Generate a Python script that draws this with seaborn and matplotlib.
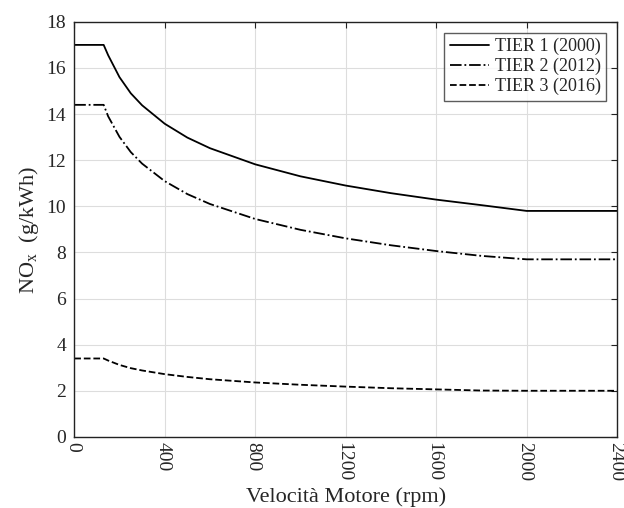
import numpy as np
import pandas as pd
import seaborn as sns
import matplotlib
matplotlib.use("Agg")
import matplotlib.pyplot as plt
import matplotlib.transforms as mtransforms

# values
rpm = [0, 130, 150, 200, 250, 300, 400, 500, 600, 800, 1000, 1200, 1400,
       1600, 1800, 2000, 2400]
tier1 = [17.0, 17.0, 16.55, 15.6, 14.9, 14.38, 13.58, 12.98, 12.52, 11.82,
         11.30, 10.90, 10.57, 10.29, 10.05, 9.8, 9.8]
tier2 = [14.4, 14.4, 13.9, 13.01, 12.35, 11.85, 11.09, 10.53, 10.10, 9.45,
         8.98, 8.61, 8.31, 8.06, 7.85, 7.7, 7.7]
tier3 = [3.4, 3.4, 3.31, 3.12, 2.98, 2.88, 2.72, 2.60, 2.50, 2.36,
         2.26, 2.18, 2.11, 2.06, 2.01, 2.0, 2.0]
labels = ["TIER 1 (2000)", "TIER 2 (2012)", "TIER 3 (2016)"]
styles = ["-", "-.", "--"]

df = pd.DataFrame({"rpm": rpm, labels[0]: tier1, labels[1]: tier2, labels[2]: tier3})
long = df.melt(id_vars="rpm", var_name="tier", value_name="nox")

sns.set_style("whitegrid")
plt.rcParams["font.family"] = ["Liberation Serif", "DejaVu Serif"]
plt.rcParams["mathtext.fontset"] = "custom"
plt.rcParams["mathtext.rm"] = "Liberation Serif"

fig = plt.figure(figsize=(6.24, 5.08), dpi=100)
ax = fig.add_axes([0.119, 0.140, 0.870, 0.817])

for lab, ls in zip(labels, styles):
    sub = long[long["tier"] == lab]
    sns.lineplot(data=sub, x="rpm", y="nox", ax=ax, color="black",
                 linestyle=ls, linewidth=1.3, label=lab)

ax.set_xlim(0, 2400)
ax.set_ylim(0, 18)
ax.set_xticks(np.arange(0, 2401, 400))
ax.set_yticks(np.arange(0, 19, 2))
ax.tick_params(axis="x", labelrotation=270, labelsize=14, pad=4)
ax.tick_params(axis="y", labelsize=14, pad=6)
ax.tick_params(direction="in", length=4, top=True, right=True, color="#222222")
ax.grid(True, color="#dddddd", linewidth=0.8)
for sp in ax.spines.values():
    sp.set_color("#222222")
    sp.set_linewidth(1.0)

# nudge the rotated x labels a bit left so 2400 stays inside the figure
shift = mtransforms.ScaledTranslation(-2 / 100, 0, fig.dpi_scale_trans)
for t in ax.get_xticklabels():
    t.set_transform(t.get_transform() + shift)

ax.set_xlabel("Velocità Motore (rpm)", fontsize=16, labelpad=4)
ax.set_ylabel("NO$_\\mathrm{x}$  (g/kWh)", fontsize=16, labelpad=4)

leg = ax.legend(loc="upper right", fontsize=13, frameon=True, fancybox=False,
                edgecolor="#333333", handlelength=2.2, borderpad=0.3,
                labelspacing=0.15, handletextpad=0.3, borderaxespad=0.6)
leg.get_frame().set_linewidth(1.0)

fig.savefig("out.png", dpi=100)
